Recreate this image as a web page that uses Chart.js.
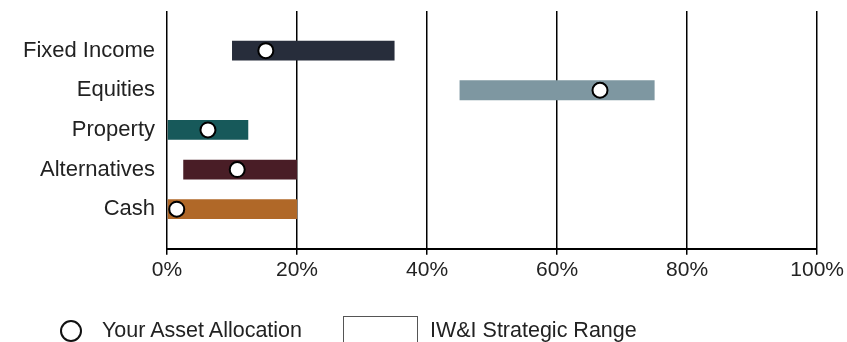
<!DOCTYPE html>
<html>
<head>
<meta charset="utf-8">
<script src="https://cdn.jsdelivr.net/npm/chart.js@4"></script>
<style>
    html, body { margin: 0; padding: 0; background: #fff; overflow: hidden; }
    #wrap { position: relative; width: 847px; height: 342px; }
    #chart { position: absolute; left: 0; top: 0; }
    .lg-text { position: absolute; font: 21.5px "Liberation Sans", Arial, sans-serif; line-height: 24px; color: #222; white-space: nowrap; }
    .lg-dot { position: absolute; left: 60px; top: 320px; width: 22px; height: 22px; box-sizing: border-box; border: 2px solid #111; border-radius: 50%; background: #fff; }
    .lg-box { position: absolute; left: 343px; top: 316px; width: 75px; height: 40px; box-sizing: border-box; border: 1px solid #555; background: #fff; }
</style>
</head>
<body>
<div id="wrap">
    <canvas id="chart" width="847" height="342"></canvas>
    <div class="lg-dot"></div>
    <div class="lg-text" style="left:102px; top:318px;">Your Asset Allocation</div>
    <div class="lg-box"></div>
    <div class="lg-text" style="left:430px; top:318px;">IW&amp;I Strategic Range</div>
</div>
<script>
    // ==================== DATA ====================
    const categories = ['Fixed Income', 'Equities', 'Property', 'Alternatives', 'Cash'];
    const rangeLow   = [10, 45, 0, 2.5, 0];
    const rangeHigh  = [35, 75, 12.5, 20, 20];
    const allocation = [15.2, 66.6, 6.3, 10.8, 1.5];
    const barColors  = ['#272d3b', '#7e97a1', '#17595a', '#491d26', '#b06828'];
    const xTicks     = [0, 20, 40, 60, 80, 100];

    const FONT = '"Liberation Sans", Arial, sans-serif';
    const TEXT = '#222';

    // ==================== CHART ====================
    const ctx = document.getElementById('chart').getContext('2d');
    new Chart(ctx, {
        type: 'bar',
        data: {
            datasets: [
                {
                    type: 'scatter',
                    label: 'Your Asset Allocation',
                    data: allocation.map((v, i) => ({ x: v, y: i })),
                    backgroundColor: '#fff',
                    borderColor: '#000',
                    borderWidth: 2,
                    pointRadius: 7.5,
                    order: 0
                },
                {
                    type: 'bar',
                    label: 'IW&I Strategic Range',
                    data: categories.map((c, i) => ({ x: [rangeLow[i], rangeHigh[i]], y: i })),
                    backgroundColor: barColors,
                    borderWidth: 0,
                    barPercentage: 0.5,
                    categoryPercentage: 1,
                    order: 1
                }
            ]
        },
        options: {
            indexAxis: 'y',
            responsive: false,
            animation: false,
            events: [],
            layout: { autoPadding: false, padding: { top: 11, right: 29, bottom: 56, left: 0 } },
            plugins: { legend: { display: false }, tooltip: { enabled: false } },
            scales: {
                x: {
                    type: 'linear',
                    min: 0,
                    max: 100,
                    offset: false,
                    afterBuildTicks: (s) => { s.ticks = xTicks.map(v => ({ value: v })); },
                    ticks: {
                        callback: (v) => v + '%',
                        color: TEXT,
                        font: { family: FONT, size: 21 },
                        padding: 3,
                        maxRotation: 0
                    },
                    grid: { color: '#000', lineWidth: 1.5, tickLength: 6, drawTicks: true, offset: false },
                    border: { display: true, color: '#000', width: 2 }
                },
                y: {
                    type: 'linear',
                    min: -1,
                    max: 5,
                    reverse: true,
                    offset: false,
                    afterBuildTicks: (s) => { s.ticks = categories.map((c, i) => ({ value: i })); },
                    afterFit: (s) => { s.width = 167; s.paddingTop = 0; s.paddingBottom = 0; },
                    ticks: {
                        callback: (v) => categories[v],
                        color: TEXT,
                        font: { family: FONT, size: 22 },
                        padding: 12
                    },
                    grid: { display: false, drawTicks: false, offset: false },
                    border: { display: false }
                }
            }
        }
    });
</script>
</body>
</html>
